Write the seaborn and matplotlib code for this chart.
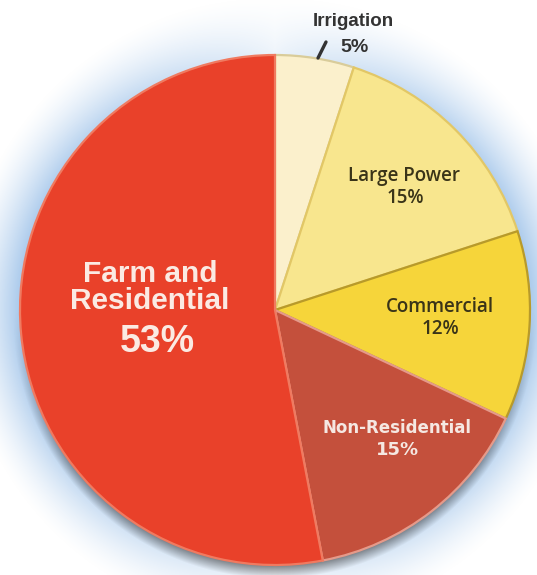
import numpy as np
import matplotlib
matplotlib.use("Agg")
import matplotlib.pyplot as plt
import seaborn as sns

# Data
categories = ["Irrigation", "Large Power", "Commercial", "Non-Residential", "Farm and\nResidential"]
shares = [5, 15, 12, 15, 53]
colors = ["#fbf0cc", "#f8e68e", "#f6d53a", "#c4503c", "#e9412a"]
edges = ["#d9cc9a", "#e2c766", "#b89a2a", "#e59a8a", "#f07a60"]

sns.set_theme(style="white")
plt.rcParams["font.family"] = ["Liberation Sans", "DejaVu Sans"]

fig = plt.figure(figsize=(5.37, 5.75), dpi=100)
ax = fig.add_axes([0, 0, 1, 1])
R = 255.0
cx, cy = 275.0, 310.0

# blue glow + soft shadow behind the pie
xs = np.linspace(-cx / R, (537 - cx) / R, 537)
ys = np.linspace(cy / R, -(575 - cy) / R, 575)
X, Y = np.meshgrid(xs, ys)
r = np.hypot(X, Y)
th = np.arctan2(Y, X)
side = np.abs(np.cos(th)) ** 0.8
glow = np.clip(1 - (r - 1) / 0.24, 0, 1) ** 1.5 * (0.2 + 0.8 * side)
img = np.ones((575, 537, 4))
img[..., 0] = 0.55
img[..., 1] = 0.72
img[..., 2] = 0.90
img[..., 3] = glow * 0.75
ax.imshow(img, extent=[xs[0], xs[-1], ys[-1], ys[0]], zorder=0, aspect="auto")

rs = np.hypot(X, Y + 0.025)
shadow = np.clip(1 - (rs - 0.98) / 0.05, 0, 1) * np.clip(-Y / 0.6, 0, 1)
simg = np.zeros((575, 537, 4))
simg[..., :3] = 0.25
simg[..., 3] = shadow * 0.6
ax.imshow(simg, extent=[xs[0], xs[-1], ys[-1], ys[0]], zorder=1, aspect="auto")

wedges, _ = ax.pie(shares, colors=colors, startangle=90, counterclock=False,
                   radius=1.0, center=(0, 0), frame=True,
                   wedgeprops=dict(linewidth=1.6))
for w, ec in zip(wedges, edges):
    w.set_edgecolor(ec)
    w.set_zorder(2)
ax.set_xlim(-cx / R, (537 - cx) / R)
ax.set_ylim(-(575 - cy) / R, cy / R)
ax.set_aspect("auto")
ax.axis("off")


def px(x, y):
    return (x - cx) / R, (cy - y) / R


def label(xp, yp, s, size, color, weight="normal", family=None):
    x, y = px(xp, yp)
    kw = {}
    if family:
        kw["family"] = family
    ax.text(x, y, s, ha="center", va="center", fontsize=size,
            fontweight=weight, color=color, zorder=5, **kw)


# labels
label(353, 22, "Irrigation", 13.5, "#333333", "bold")
label(354, 48, "5%", 14, "#333333", "bold")
x0, y0 = px(318, 58)
x1, y1 = px(326, 42)
ax.plot([x0, x1], [y0, y1], color="#333333", lw=2.4, zorder=5)

dark = "#3a3418"
label(404, 176, "Large Power", 13.5, dark, "semibold", ["Open Sans", "DejaVu Sans"])
label(405, 198, "15%", 13.5, dark, "semibold", ["Open Sans", "DejaVu Sans"])

label(440, 307, "Commercial", 13.5, dark, "semibold", ["Open Sans", "DejaVu Sans"])
label(440, 329, "12%", 13.5, dark, "semibold", ["Open Sans", "DejaVu Sans"])

light = "#f5e8e2"
label(397, 428, "Non-Residential", 12, light, "bold", ["DejaVu Sans"])
label(397, 450, "15%", 13, light, "bold", ["DejaVu Sans"])

warm = "#fbeae3"
label(150, 274, "Farm and", 21.5, warm, "bold")
label(150, 301, "Residential", 21.5, warm, "bold")
label(157, 342, "53%", 27, warm, "bold")

fig.savefig("out.png", dpi=100)
